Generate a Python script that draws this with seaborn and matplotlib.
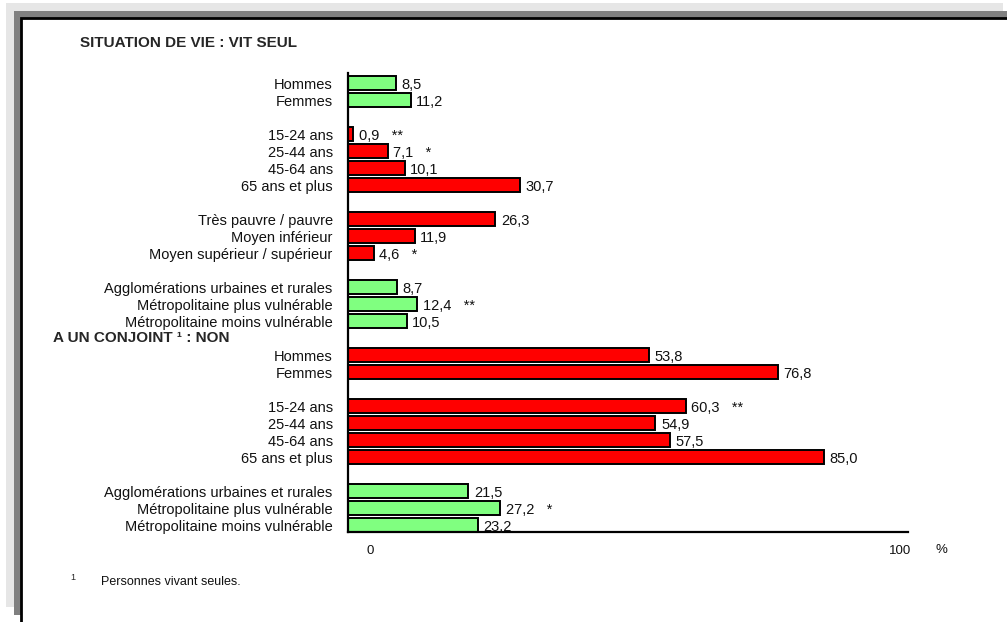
import matplotlib
matplotlib.use("Agg")
import matplotlib.pyplot as plt
import matplotlib.transforms as mtransforms
from matplotlib.patches import Rectangle
import pandas as pd
import seaborn as sns

# rows of the chart, top to bottom ("" = empty slot)
categories = ["Hommes", "Femmes", "",
              "15-24 ans", "25-44 ans", "45-64 ans", "65 ans et plus", "",
              "Très pauvre / pauvre", "Moyen inférieur", "Moyen supérieur / supérieur", "",
              "Agglomérations urbaines et rurales", "Métropolitaine plus vulnérable",
              "Métropolitaine moins vulnérable", "",
              "Hommes", "Femmes", "",
              "15-24 ans", "25-44 ans", "45-64 ans", "65 ans et plus", "",
              "Agglomérations urbaines et rurales", "Métropolitaine plus vulnérable",
              "Métropolitaine moins vulnérable"]
values = [8.5, 11.2, None,
          0.9, 7.1, 10.1, 30.7, None,
          26.3, 11.9, 4.6, None,
          8.7, 12.4, 10.5, None,
          53.8, 76.8, None,
          60.3, 54.9, 57.5, 85.0, None,
          21.5, 27.2, 23.2]
stars = ["", "", "",
         "**", "*", "", "", "",
         "", "", "*", "",
         "", "**", "", "",
         "", "", "",
         "**", "", "", "", "",
         "", "*", ""]
groups = ["vert", "vert", "",
          "rouge", "rouge", "rouge", "rouge", "",
          "rouge", "rouge", "rouge", "",
          "vert", "vert", "vert", "",
          "rouge", "rouge", "",
          "rouge", "rouge", "rouge", "rouge", "",
          "vert", "vert", "vert"]
palette = {"vert": "#80ff80", "rouge": "#ff0000"}

title_1 = "SITUATION DE VIE : VIT SEUL"
title_2 = "A UN CONJOINT ¹ : NON"
heading_row = 15
footnote = "Personnes vivant seules."

keys = ["row%d" % i for i in range(len(categories))]
rows = [(k, v, g) for k, v, g in zip(keys, values, groups) if v is not None]
df = pd.DataFrame(rows, columns=["cle", "valeur", "groupe"])

sns.set_style("white")
plt.rcParams["font.family"] = ["Liberation Sans", "DejaVu Sans"]

W, H = 1007, 622
fig = plt.figure(figsize=(W / 100, H / 100), dpi=100)

# page frame (shadow + border)
fig.add_artist(Rectangle((6 / W, 1 - 607 / H), 997 / W, 604 / H, transform=fig.transFigure,
                         fc="#e6e6e6", ec="none", zorder=-3))
fig.add_artist(Rectangle((14 / W, 1 - 615 / H), 1000 / W, 604 / H, transform=fig.transFigure,
                         fc="#808080", ec="none", zorder=-2))
fig.add_artist(Rectangle((21 / W, 1 - 640 / H), 1000 / W, 622 / H, transform=fig.transFigure,
                         fc="white", ec="black", lw=2, zorder=-1))

ax = fig.add_axes([348 / W, 1 - 532 / H, 560 / W, 459 / H])
ax.patch.set_alpha(0)

sns.barplot(data=df, x="valeur", y="cle", hue="groupe", order=keys, palette=palette,
            dodge=False, orient="h", width=0.82, edgecolor="black", linewidth=1.4,
            saturation=1, legend=False, ax=ax)

ax.set_xlim(0, 100)
ax.set_ylim(len(keys) - 0.6, -0.6)
ax.set_xlabel("")
ax.set_ylabel("")
ax.set_yticks(range(len(keys)))
ax.set_yticklabels(categories, fontsize=10.5, color="#111111")
ax.set_xticks([0, 100])
ax.set_xticklabels(["0", "100"], fontsize=9.5, color="#111111")
ax.tick_params(axis="both", length=0)
ax.tick_params(axis="y", pad=11)
ax.tick_params(axis="x", pad=9)
for spine in ["top", "right"]:
    ax.spines[spine].set_visible(False)
for spine in ["left", "bottom"]:
    ax.spines[spine].set_color("black")
    ax.spines[spine].set_linewidth(1.6)

# shift the x tick labels like the original
shifts = [22, -8]
for lab, dx in zip(ax.get_xticklabels(), shifts):
    lab.set_transform(lab.get_transform() + mtransforms.ScaledTranslation(dx / 100, 0, fig.dpi_scale_trans))

# value labels
for i, (v, s) in enumerate(zip(values, stars)):
    if v is None:
        continue
    txt = ("%.1f" % v).replace(".", ",")
    if s:
        txt = txt + "   " + s
    ax.annotate(txt, (v, i), xytext=(4, -1.5), textcoords="offset points",
                ha="left", va="center", fontsize=10.5, color="#111111")

fig.text(80 / W, 1 - 43 / H, title_1, fontsize=11, fontweight="bold", va="center", ha="left")
blend = mtransforms.blended_transform_factory(fig.transFigure, ax.transData)
fig.text(53 / W, heading_row, title_2, transform=blend, fontsize=11, fontweight="bold",
         va="center", ha="left")
fig.text(935 / W, 1 - 550 / H, "%", fontsize=9.5, va="center", ha="left", color="#111111")
fig.text(70 / W, 1 - 577 / H, "1", fontsize=6.5, va="center", ha="left")
fig.text(101 / W, 1 - 582 / H, footnote, fontsize=9, va="center", ha="left", color="#111111")

fig.savefig("out.png", dpi=100)
